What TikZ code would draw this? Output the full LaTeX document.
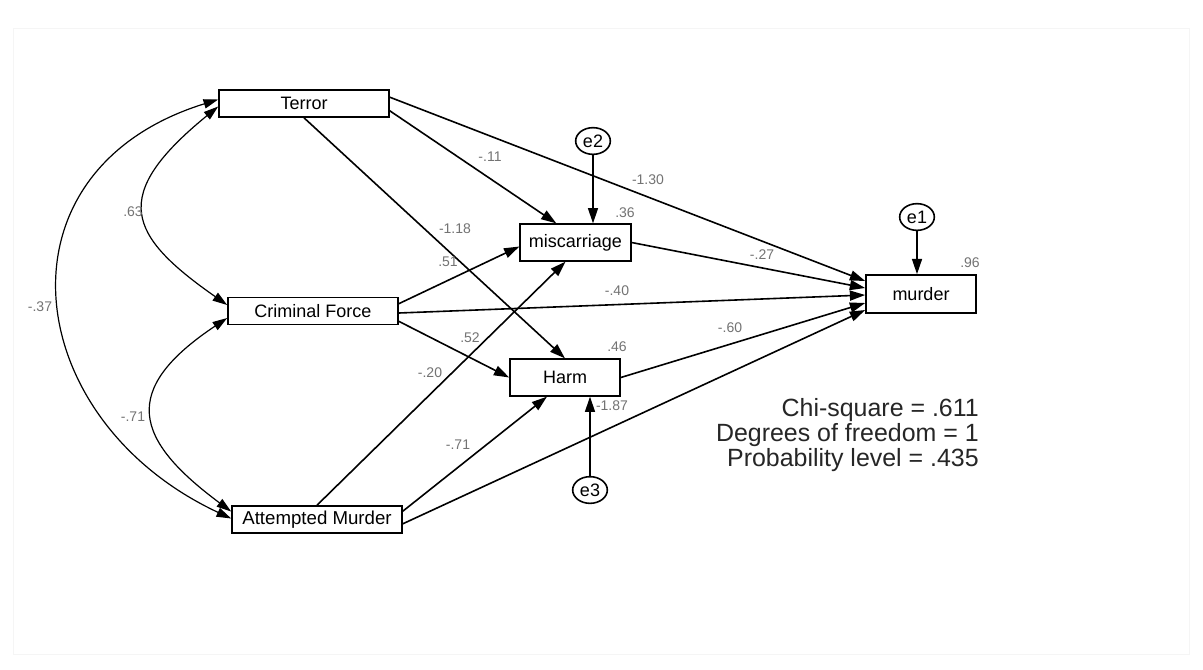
\documentclass[tikz,border=0pt]{standalone}
\usepackage{fontspec}
\setmainfont{Liberation Sans}
\usetikzlibrary{arrows.meta,calc,shapes.geometric}
\begin{document}
\begin{tikzpicture}[x=0.75pt,y=-0.75pt,
  var/.style={draw, line width=1.2pt, minimum height=20.25pt, inner sep=0pt, font=\fontsize{13.5}{15}\selectfont},
  err/.style={draw, ellipse, line width=1.2pt, minimum width=26pt, minimum height=20pt, inner sep=0pt, font=\fontsize{13.5}{14}\selectfont},
  reg/.style={line width=1.2pt, -{Triangle[length=11.5pt,width=7.5pt]}},
  cov/.style={line width=0.9pt, {Triangle[length=11pt,width=7pt]}-{Triangle[length=11pt,width=7pt]}},
  coef/.style={text=black!55, font=\fontsize{10.5}{12}\selectfont, inner sep=1pt},
  stat/.style={anchor=east, text=black!85, font=\fontsize{18.7}{20}\selectfont, inner sep=0pt}]

\useasboundingbox (0,0) rectangle (1203,669);
\fill[white] (0,0) rectangle (1203,669);
\draw[black!4] (13,28) rectangle (1189,654);

% observed variables
\node[var, minimum width=127.5pt] (T) at (304,103.5) {Terror};
\node[var, minimum width=127.5pt] (C) at (313,311) {Criminal Force};
\node[var, minimum width=127.5pt, font=\fontsize{14}{15}\selectfont] (A) at (317,519.5) {Attempted Murder};
\node[var, minimum width=83pt, minimum height=27.5pt] (M) at (575.5,242.5) {miscarriage};
\node[var, minimum width=82.5pt, minimum height=27.5pt] (H) at (565,377.5) {Harm};
\node[var, minimum width=82.5pt, minimum height=28.5pt] (D) at (921,294) {murder};

% error terms
\node[err] (e2) at (593,141) {e2};
\node[err] (e1) at (917,217) {e1};
\node[err] (e3) at (590,490) {e3};

% regression paths
\draw[reg] ($(T.south east)+(0,-7)$) -- ($(M.north west)+(37,0)$);
\draw[reg] ($(T.north east)+(0,8)$) -- ($(D.west)+(0,-13)$);
\draw[reg] (T.south) -- (H.north);
\draw[reg] (e2) -- (e2 |- M.north);
\draw[reg] ($(C.north east)+(0,7)$) -- ($(M.west)+(0,4)$);
\draw[reg] ($(C.east)+(0,2)$) -- ($(D.west)+(0,1)$);
\draw[reg] ($(C.south east)+(0,-4)$) -- (H.west);
\draw[reg] (A.north) -- ($(M.south)+(-10,0)$);
\draw[reg] ($(A.north east)+(0,6)$) -- ($(H.south)+(-18,0)$);
\draw[reg] ($(A.south east)+(0,-10)$) -- ($(D.west)+(0,16)$);
\draw[reg] (H.east) -- ($(D.west)+(0,9)$);
\draw[reg] (M.east) -- ($(D.west)+(0,-6)$);
\draw[reg] (e3) -- (e3 |- H.south);
\draw[reg] (e1) -- (e1 |- D.north);

% covariances
\draw[cov] ($(T.west)+(0,3)$) .. controls +(-109,89) and +(-100,-70) .. ($(C.west)+(0,-6)$);
\draw[cov] ($(T.west)+(0,-4)$) .. controls +(-229,71) and +(-212,-99) .. ($(A.west)+(0,-1)$);
\draw[cov] ($(C.west)+(0,7)$) .. controls +(-108,72) and +(-97,-72) .. ($(A.west)+(0,-8)$);

% coefficients
\node[coef] (l1) at (490,157) {-.11};
\node[coef] (l2) at (648,180) {-1.30};
\node[coef] (l3) at (455,229) {-1.18};
\node[coef] (l4) at (625,213) {.36};
\node[coef] (l5) at (448,262) {.51};
\node[coef] (l6) at (617,291) {-.40};
\node[coef] (l7) at (762,255) {-.27};
\node[coef] (l8) at (970,263) {.96};
\node[coef] (l9) at (470,338) {.52};
\node[coef] (l10) at (430,373) {-.20};
\node[coef] (l11) at (617,347) {.46};
\node[coef] (l12) at (612,406) {-1.87};
\node[coef] (l13) at (458,445) {-.71};
\node[coef] (l14) at (730,328) {-.60};
\node[coef] (l15) at (133,212) {.63};
\node[coef] (l16) at (40,307) {-.37};
\node[coef] (l17) at (133,417) {-.71};

% fit statistics
\node[stat] (s1) at (979,410) {Chi-square = .611};
\node[stat] (s2) at (979,435) {Degrees of freedom = 1};
\node[stat] (s3) at (979,460) {Probability level = .435};
\end{tikzpicture}
\end{document}
